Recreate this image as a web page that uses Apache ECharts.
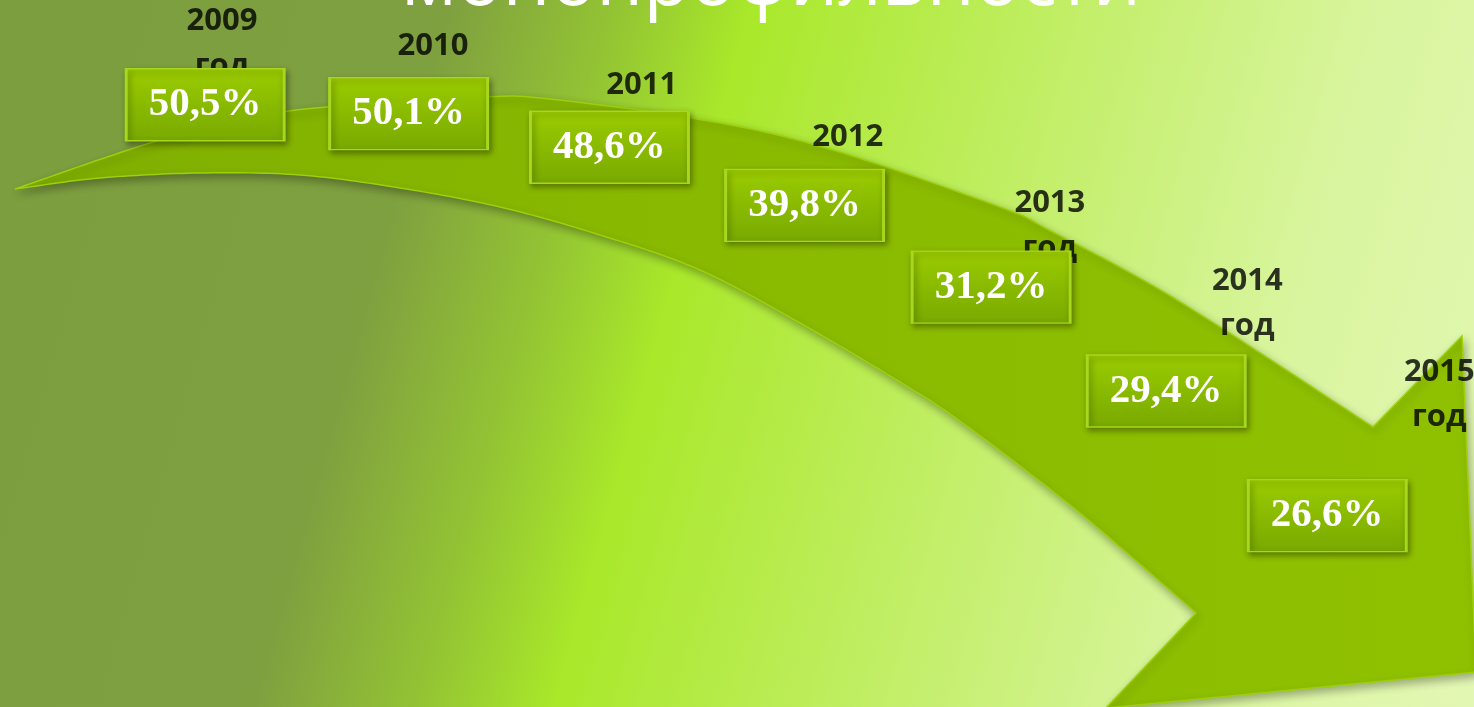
<!DOCTYPE html>
<html>
<head>
<meta charset="utf-8">
<script src="https://cdn.jsdelivr.net/npm/echarts@6/dist/echarts.min.js"></script>
<style>
html, body { margin: 0; padding: 0; overflow: hidden; }
#chart { width: 1474px; height: 707px; }
</style>
</head>
<body>
<div id="chart"></div>
<script>
// данные слайда
const years = [2009, 2010, 2011, 2012, 2013, 2014, 2015]
const shares = [50.5, 50.1, 48.6, 39.8, 31.2, 29.4, 26.6]
const yearSuffix = 'год'
const titleText = 'монопрофильности'

// контур стрелки (только декор)
const arrowTop = [[15, 189], [150, 143], [253, 117], [337, 106], [480, 97], [550, 99], [709, 121], [833, 150], [1000, 207], [1049, 230], [1177, 300], [1373, 427]]
const arrowHead = [[1462, 336], [1476, 672], [1106, 708], [1196, 613]]
const arrowBottom = [[1196, 613], [1127, 553], [1060, 497], [960, 421], [900, 382], [800, 323], [700, 270], [600, 235], [500, 207], [400, 188], [300, 175], [200, 173], [100, 178], [15, 189]]

// дуги, вдоль которых идут плашки и подписи годов
const BOX_ARC = { center: [235.5, 1759.5], r: 1655, start: 91.05, degPerYear: 7.054 }
const YEAR_ARC = { center: [-64.3, 3323], r: 3292, start: 85.01, degPerYear: 3.698 }

// сглаживание ломаной (Catmull-Rom), чтобы края стрелки были плавными
function smooth(pts, steps) {
	let out = []
	for (let i = 0; i < pts.length - 1; i++) {
		let p0 = pts[Math.max(i - 1, 0)]
		let p1 = pts[i]
		let p2 = pts[i + 1]
		let p3 = pts[Math.min(i + 2, pts.length - 1)]
		for (let s = 0; s < steps; s++) {
			let t = s / steps
			let t2 = t * t
			let t3 = t2 * t
			out.push([0, 1].map(function (k) {
				return 0.5 * (2 * p1[k] + (-p0[k] + p2[k]) * t + (2 * p0[k] - 5 * p1[k] + 4 * p2[k] - p3[k]) * t2 + (-p0[k] + 3 * p1[k] - 3 * p2[k] + p3[k]) * t3)
			}))
		}
	}
	out.push(pts[pts.length - 1])
	return out
}

const arrowPoints = smooth(arrowTop, 16).concat(arrowHead, smooth(arrowBottom, 16))

const bgGradient = new echarts.graphic.LinearGradient(0, 0, 1550, 435, [
	{ offset: 0, color: '#7d9e3f' },
	{ offset: 0.27, color: '#7fa03f' },
	{ offset: 0.3, color: '#86ab3c' },
	{ offset: 0.37, color: '#93c433' },
	{ offset: 0.45, color: '#a9e82a' },
	{ offset: 0.66, color: '#c4ef6c' },
	{ offset: 0.83, color: '#d9f59f' },
	{ offset: 1, color: '#e3f7b4' },
], true)

const arrowGradient = new echarts.graphic.LinearGradient(0, 0, 1474, 0, [
	{ offset: 0, color: '#80ae00' },
	{ offset: 0.5, color: '#8aba00' },
	{ offset: 1, color: '#90c100' },
], true)

const boxGradient = new echarts.graphic.LinearGradient(0, 0, 0, 1, [
	{ offset: 0, color: '#9bcc00' },
	{ offset: 1, color: '#78a900' },
])

function arcPolar(arc) {
	return { center: arc.center, radius: [0, 4000] }
}
function arcAngleAxis(arc, idx) {
	return {
		polarIndex: idx,
		type: 'value',
		min: years[0],
		max: years[0] + 360 / arc.degPerYear,
		startAngle: arc.start,
		clockwise: true,
		show: false,
	}
}
function arcRadiusAxis(idx) {
	return { polarIndex: idx, type: 'value', min: 0, max: 4000, show: false }
}

let option = {
	animation: false,
	polar: [arcPolar(BOX_ARC), arcPolar(YEAR_ARC)],
	angleAxis: [arcAngleAxis(BOX_ARC, 0), arcAngleAxis(YEAR_ARC, 1)],
	radiusAxis: [arcRadiusAxis(0), arcRadiusAxis(1)],
	graphic: [
		{
			type: 'rect',
			z: 0,
			silent: true,
			shape: { x: 0, y: 0, width: 1474, height: 707 },
			style: { fill: bgGradient },
		},
		{
			type: 'polygon',
			z: 1,
			silent: true,
			shape: { points: arrowPoints },
			style: {
				fill: arrowGradient,
				stroke: '#9dd00c',
				lineWidth: 1.5,
				shadowBlur: 8,
				shadowOffsetX: 2,
				shadowOffsetY: 4,
				shadowColor: 'rgba(0,0,0,0.3)',
			},
		},
		{
			type: 'text',
			z: 10,
			silent: true,
			style: {
				text: titleText,
				x: 771,
				y: 21,
				align: 'center',
				verticalAlign: 'bottom',
				fill: '#ffffff',
				font: '76px "Open Sans"',
			},
		},
	],
	series: [
		{
			// подписи годов
			type: 'scatter',
			coordinateSystem: 'polar',
			polarIndex: 1,
			z: 5,
			symbolSize: 0,
			silent: true,
			data: years.map(function (y) {
				return [YEAR_ARC.r, y]
			}),
			label: {
				show: true,
				position: 'inside',
				formatter: function (p) {
					return p.value[1] + '\n' + yearSuffix
				},
				color: '#000',
				fontFamily: 'Open Sans',
				fontWeight: 'bold',
				fontSize: 31,
				lineHeight: 45,
				align: 'center',
			},
		},
		{
			// плашки с долями
			type: 'scatter',
			coordinateSystem: 'polar',
			polarIndex: 0,
			z: 6,
			silent: true,
			symbol: 'rect',
			symbolSize: [158, 72],
			data: shares.map(function (v, i) {
				return [BOX_ARC.r, years[i], v]
			}),
			itemStyle: {
				color: boxGradient,
				opacity: 1,
				borderColor: '#a8d81e',
				borderWidth: 2,
				shadowBlur: 6,
				shadowOffsetX: 2,
				shadowOffsetY: 3,
				shadowColor: 'rgba(0,0,0,0.35)',
			},
			label: {
				show: true,
				position: 'inside',
				formatter: function (p) {
					return p.value[2].toFixed(1).replace('.', ',') + '%'
				},
				color: '#fff',
				fontFamily: 'Liberation Serif',
				fontWeight: 'bold',
				fontSize: 41,
			},
		},
	],
}

var chart = echarts.init(document.getElementById('chart'))
chart.setOption(option)
</script>
</body>
</html>
